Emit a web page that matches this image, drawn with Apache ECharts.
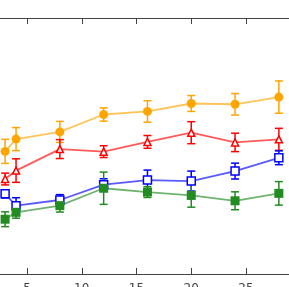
<!DOCTYPE html>
<html><head><meta charset="utf-8">
<script src="https://cdn.jsdelivr.net/npm/echarts@6/dist/echarts.min.js"></script>
<style>html,body{margin:0;padding:0;background:#fff}#c{width:289px;height:287px}</style>
</head><body><div id="c"></div>
<script>
const xValues = [3, 4, 8, 12, 16, 20, 24, 28];
const xTicks = [5, 10, 15, 20, 25];
const orangeVals = [47.9, 52.7, 55.5, 62.3, 63.5, 66.6, 66.3, 69.1];
const orangeErr  = [4.7, 4.5, 4.1, 2.6, 4.2, 3.1, 4.2, 6.3];
const redVals    = [37.1, 40.4, 48.8, 47.8, 51.6, 55.2, 51.4, 52.6];
const redErr     = [2.3, 4.6, 3.7, 2.3, 2.5, 4.3, 3.6, 4.3];
const blueVals   = [31.3, 26.7, 28.9, 34.9, 36.7, 36.3, 40.2, 45.4];
const blueErr    = [1.6, 3.1, 2.1, 2.3, 3.9, 3.9, 3.1, 2.7];
const greenVals  = [21.4, 24.1, 26.7, 33.5, 32.0, 30.7, 28.6, 31.5];
const greenErr   = [2.9, 2.3, 2.5, 6.3, 2.1, 4.6, 3.5, 4.6];

const chart = echarts.init(document.getElementById('c'), null, {renderer: 'canvas'});

function pts(vals) { return xValues.map((x, i) => [x, vals[i]]); }
function errData(vals, err) { return xValues.map((x, i) => [x, vals[i] - err[i], vals[i] + err[i]]); }

function errSeries(vals, err, color) {
  return {
    type: 'custom',
    xAxisIndex: 0, yAxisIndex: 0,
    data: errData(vals, err),
    z: 1,
    renderItem: function (params, api) {
      const lo = api.coord([api.value(0), api.value(1)]);
      const hi = api.coord([api.value(0), api.value(2)]);
      const hw = 4;
      const st = {stroke: color, lineWidth: 1.5};
      return {type: 'group', children: [
        {type: 'line', shape: {x1: lo[0], y1: lo[1], x2: hi[0], y2: hi[1]}, style: st},
        {type: 'line', shape: {x1: lo[0]-hw, y1: lo[1], x2: lo[0]+hw, y2: lo[1]}, style: st},
        {type: 'line', shape: {x1: hi[0]-hw, y1: hi[1], x2: hi[0]+hw, y2: hi[1]}, style: st}
      ]};
    }
  };
}

function lineSeries(vals, color, symbol, size, filled) {
  return {
    type: 'line',
    data: pts(vals),
    symbol: symbol,
    symbolSize: size,
    showAllSymbol: true,
    z: 3,
    lineStyle: {color: color, width: 1.8, opacity: 0.65},
    itemStyle: filled ? {color: color} : {color: '#fff', borderColor: color, borderWidth: 1.5},
    emphasis: {disabled: true}
  };
}

const axisCol = '#444';
chart.setOption({
  animation: false,
  grid: {left: -27.75, right: -11.75, top: 18, bottom: 13, containLabel: false, outerBoundsMode: 'none'},
  xAxis: [
    {type: 'value', position: 'bottom', min: 0, max: 30, interval: 5,
     axisLine: {show: true, lineStyle: {color: axisCol, width: 1}},
     axisTick: {show: true, inside: true, length: 6, lineStyle: {color: axisCol}},
     axisLabel: {show: true, margin: 9, color: '#444', fontSize: 12, fontFamily: 'DejaVu Sans',
       customValues: xTicks},
     splitLine: {show: false}},
    {type: 'value', position: 'top', min: 0, max: 30, interval: 5,
     axisLine: {show: true, lineStyle: {color: axisCol, width: 1}},
     axisTick: {show: true, inside: true, length: 6, lineStyle: {color: axisCol}},
     axisLabel: {show: false}, splitLine: {show: false}}
  ],
  yAxis: [
    {type: 'value', min: 0, max: 100, axisLine: {show: false}, axisTick: {show: false},
     axisLabel: {show: false}, splitLine: {show: false}}
  ],
  series: [
    errSeries(orangeVals, orangeErr, '#FFA500'),
    errSeries(redVals, redErr, '#FF0000'),
    errSeries(blueVals, blueErr, '#0000FF'),
    errSeries(greenVals, greenErr, '#228B22'),
    lineSeries(orangeVals, '#FFA500', 'circle', 9, true),
    lineSeries(redVals, '#FF0000', 'triangle', 7, false),
    lineSeries(blueVals, '#0000FF', 'rect', 8, false),
    lineSeries(greenVals, '#228B22', 'rect', 9, true)
  ]
});
</script></body></html>
